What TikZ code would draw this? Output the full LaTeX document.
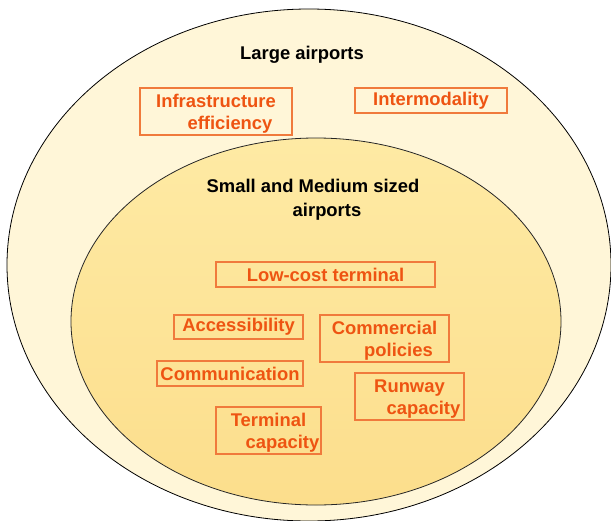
\documentclass[tikz,border=0pt]{standalone}
\usepackage{fontspec}
\setmainfont{Liberation Sans}
\definecolor{outerfill}{HTML}{FFF6D8}
\definecolor{innertop}{HTML}{FEEAA4}
\definecolor{innerbot}{HTML}{FCDE8C}
\definecolor{factortext}{HTML}{EE5412}
\definecolor{factorline}{HTML}{F07A3C}
\newcommand{\shiftline}{\hspace*{28pt}}
\newcommand{\lowerline}{\rule{0pt}{18pt}}
\begin{document}
\begin{tikzpicture}[x=1pt, y=-1pt,
    factor/.style={draw=factorline, line width=1.2pt, inner sep=0pt,
      align=center, text=factortext, font=\fontsize{18.4}{22.5}\selectfont\bfseries},
    title/.style={align=center, font=\fontsize{18.4}{24}\selectfont\bfseries}]
  \useasboundingbox (0,0) rectangle (611,520);
  % the two airport groups
  \draw[fill=outerfill, line width=0.8pt] (309,265) ellipse [x radius=302, y radius=256];
  \draw[top color=innertop, bottom color=innerbot, draw=black!85, line width=0.8pt]
    (316,321.5) ellipse [x radius=245, y radius=183.5];
  \node[title] (large) at (302,55) {Large airports};
  \node[title] (small) at (313,200) {Small and Medium sized\\\shiftline airports};
  \begin{scope}[every node/.style={factor}]
    \node[minimum width=152pt, minimum height=47pt] (infra) at (216,111.5)
      {\lowerline Infrastructure\\\shiftline efficiency};
    \node[minimum width=152pt, minimum height=25pt] (inter) at (431,100.5) {Intermodality};
    \node[minimum width=219pt, minimum height=25pt] (lowcost) at (325.5,274.5) {Low-cost terminal};
    \node[minimum width=129pt, minimum height=24pt] (access) at (238.5,327) {Accessibility};
    \node[minimum width=129pt, minimum height=47pt] (commerc) at (384.5,338.5)
      {\lowerline Commercial\\\shiftline policies};
    \node[minimum width=146pt, minimum height=25pt] (commun) at (230,373.5) {Communication};
    \node[minimum width=109pt, minimum height=47pt] (runway) at (409.5,396.5)
      {\lowerline Runway\\\shiftline capacity};
    \node[minimum width=105pt, minimum height=47pt] (terminal) at (268.5,430.5)
      {\lowerline Terminal\\\shiftline capacity};
  \end{scope}
\end{tikzpicture}
\end{document}
